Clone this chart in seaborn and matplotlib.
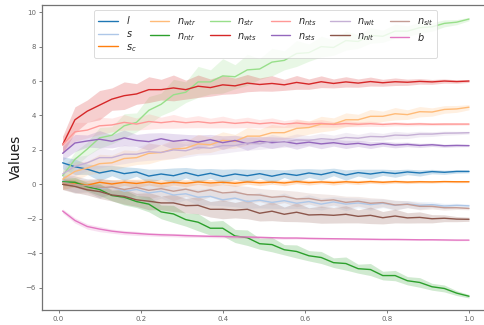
import numpy as np
import pandas as pd
import matplotlib
matplotlib.use("Agg")
import matplotlib.pyplot as plt
import seaborn as sns

x = np.round(np.linspace(0.01, 1.0, 34), 4)

labels = ["$l$", "$s$", "$s_c$", "$n_{wtr}$", "$n_{ntr}$", "$n_{str}$", "$n_{wts}$",
          "$n_{nts}$", "$n_{sts}$", "$n_{wlt}$", "$n_{nlt}$", "$n_{slt}$", "$b$"]

l_mean = [1.25, 1.02, 0.88, 0.66, 0.8, 0.62, 0.72, 0.48, 0.6, 0.5, 0.68, 0.5, 0.64, 0.46, 0.6, 0.5, 0.62,
          0.47, 0.62, 0.52, 0.66, 0.56, 0.72, 0.54, 0.68, 0.6, 0.7, 0.63, 0.72, 0.66, 0.74, 0.7, 0.75, 0.75]
l_hw = [0.35, 0.45, 0.3, 0.45, 0.3, 0.4, 0.25, 0.4, 0.3, 0.45, 0.3, 0.4, 0.28, 0.42, 0.3, 0.38, 0.25,
        0.4, 0.22, 0.38, 0.25, 0.32, 0.22, 0.3, 0.2, 0.28, 0.18, 0.22, 0.16, 0.18, 0.13, 0.12, 0.1, 0.08]

s_mean = [0.2, 0.0, -0.05, -0.25, -0.15, -0.4, -0.3, -0.5, -0.4, -0.62, -0.55, -0.75, -0.7, -0.9, -0.8, -1.0, -0.92,
          -1.05, -0.95, -1.1, -1.0, -1.15, -1.02, -1.15, -1.08, -1.18, -1.1, -1.22, -1.14, -1.22, -1.18, -1.26, -1.22, -1.25]
s_hw = [0.4, 0.5, 0.35, 0.55, 0.4, 0.5, 0.35, 0.55, 0.4, 0.5, 0.35, 0.45, 0.5, 0.35, 0.5, 0.4, 0.45,
        0.35, 0.45, 0.3, 0.4, 0.35, 0.3, 0.38, 0.28, 0.32, 0.25, 0.28, 0.2, 0.22, 0.16, 0.15, 0.12, 0.1]

sc_mean = [0.0, 0.08, -0.05, 0.12, 0.02, 0.12, 0.05, 0.14, 0.04, 0.12, 0.06, 0.14, 0.08, 0.12, 0.06, 0.14, 0.09,
           0.13, 0.08, 0.16, 0.1, 0.14, 0.1, 0.15, 0.11, 0.16, 0.12, 0.16, 0.13, 0.15, 0.14, 0.16, 0.15, 0.15]
sc_hw = [0.3, 0.22, 0.28, 0.2, 0.25, 0.18, 0.24, 0.18, 0.22, 0.16, 0.2, 0.14, 0.2, 0.14, 0.18, 0.13, 0.17,
         0.12, 0.16, 0.12, 0.14, 0.1, 0.14, 0.1, 0.12, 0.1, 0.1, 0.09, 0.09, 0.08, 0.07, 0.06, 0.06, 0.05]

nwtr_mean = [0.3, 0.75, 0.95, 1.2, 1.25, 1.5, 1.55, 1.8, 1.85, 2.05, 2.1, 2.35, 2.3, 2.55, 2.5, 2.8, 2.8,
             3.0, 3.0, 3.25, 3.3, 3.5, 3.5, 3.75, 3.75, 3.95, 3.95, 4.1, 4.05, 4.22, 4.2, 4.35, 4.38, 4.48]
nwtr_hw = [0.5, 0.55, 0.4, 0.55, 0.45, 0.5, 0.4, 0.6, 0.45, 0.55, 0.4, 0.55, 0.45, 0.5, 0.4, 0.5, 0.4,
           0.48, 0.38, 0.5, 0.38, 0.45, 0.36, 0.4, 0.32, 0.4, 0.3, 0.36, 0.28, 0.3, 0.24, 0.22, 0.2, 0.15]

nntr_mean = [0.15, 0.12, -0.14, -0.3, -0.65, -0.75, -1.0, -1.15, -1.6, -1.72, -2.05, -2.2, -2.55, -2.55, -3.0, -3.1, -3.45,
             -3.5, -3.8, -3.9, -4.15, -4.25, -4.55, -4.6, -4.9, -4.95, -5.3, -5.3, -5.6, -5.7, -5.95, -6.05, -6.32, -6.5]
nntr_hw = [0.2, 0.28, 0.25, 0.35, 0.3, 0.45, 0.35, 0.45, 0.4, 0.5, 0.38, 0.5, 0.4, 0.45, 0.38, 0.45, 0.32,
           0.42, 0.3, 0.38, 0.3, 0.35, 0.28, 0.38, 0.26, 0.35, 0.25, 0.3, 0.24, 0.28, 0.2, 0.2, 0.14, 0.1]

nstr_mean = [0.5, 1.45, 2.05, 2.7, 2.85, 3.4, 3.6, 4.3, 4.65, 5.2, 5.35, 5.95, 5.95, 6.3, 6.25, 6.65, 6.7,
             7.1, 7.2, 7.6, 7.65, 8.0, 7.95, 8.35, 8.3, 8.65, 8.6, 8.9, 8.9, 9.1, 9.15, 9.35, 9.42, 9.6]
nstr_hw = [0.3, 0.45, 0.4, 0.6, 0.5, 0.7, 0.55, 0.8, 0.65, 0.9, 0.6, 0.9, 0.7, 1.0, 0.7, 0.9, 0.6,
           0.8, 0.55, 0.75, 0.5, 0.6, 0.45, 0.55, 0.4, 0.45, 0.35, 0.4, 0.3, 0.32, 0.25, 0.2, 0.15, 0.1]

nwts_mean = [2.3, 3.75, 4.25, 4.6, 4.95, 5.15, 5.25, 5.5, 5.5, 5.6, 5.5, 5.7, 5.62, 5.78, 5.72, 5.88, 5.8,
             5.86, 5.78, 5.92, 5.82, 5.96, 5.86, 5.95, 5.88, 5.97, 5.9, 5.96, 5.93, 5.98, 5.95, 6.0, 5.97, 6.0]
nwts_hw = [0.5, 0.75, 0.65, 0.85, 0.65, 0.8, 0.6, 0.75, 0.6, 0.75, 0.55, 0.65, 0.5, 0.55, 0.45, 0.5, 0.38,
           0.45, 0.32, 0.4, 0.3, 0.34, 0.26, 0.3, 0.24, 0.26, 0.2, 0.22, 0.18, 0.16, 0.14, 0.12, 0.1, 0.08]

nnts_mean = [2.3, 3.05, 3.15, 3.4, 3.45, 3.6, 3.5, 3.65, 3.58, 3.66, 3.58, 3.64, 3.56, 3.62, 3.54, 3.6, 3.52,
             3.58, 3.5, 3.56, 3.5, 3.54, 3.48, 3.53, 3.49, 3.52, 3.48, 3.52, 3.49, 3.51, 3.49, 3.5, 3.5, 3.5]
nnts_hw = [0.5, 0.55, 0.45, 0.5, 0.4, 0.45, 0.35, 0.45, 0.32, 0.4, 0.3, 0.35, 0.28, 0.34, 0.26, 0.3, 0.24,
           0.28, 0.2, 0.24, 0.18, 0.22, 0.16, 0.18, 0.14, 0.15, 0.12, 0.12, 0.1, 0.1, 0.08, 0.08, 0.07, 0.06]

nsts_mean = [1.8, 2.4, 2.52, 2.62, 2.5, 2.7, 2.55, 2.48, 2.65, 2.5, 2.58, 2.45, 2.6, 2.42, 2.55, 2.36, 2.5,
             2.42, 2.48, 2.36, 2.45, 2.35, 2.42, 2.32, 2.38, 2.28, 2.36, 2.28, 2.32, 2.26, 2.3, 2.24, 2.26, 2.25]
nsts_hw = [0.4, 0.5, 0.35, 0.5, 0.38, 0.45, 0.35, 0.5, 0.35, 0.45, 0.32, 0.42, 0.3, 0.4, 0.3, 0.38, 0.28,
           0.34, 0.25, 0.32, 0.22, 0.28, 0.2, 0.24, 0.18, 0.2, 0.15, 0.16, 0.13, 0.12, 0.1, 0.09, 0.08, 0.06]

nwlt_mean = [0.6, 1.05, 1.25, 1.55, 1.55, 1.75, 1.75, 1.9, 1.85, 2.0, 1.95, 2.15, 2.1, 2.25, 2.25, 2.4, 2.35,
             2.5, 2.45, 2.58, 2.55, 2.65, 2.6, 2.72, 2.68, 2.78, 2.76, 2.86, 2.84, 2.92, 2.92, 2.97, 2.98, 3.0]
nwlt_hw = [0.5, 0.55, 0.45, 0.6, 0.45, 0.55, 0.42, 0.5, 0.4, 0.5, 0.38, 0.45, 0.38, 0.45, 0.35, 0.42, 0.32,
           0.4, 0.3, 0.35, 0.28, 0.32, 0.26, 0.3, 0.22, 0.26, 0.2, 0.22, 0.18, 0.16, 0.14, 0.12, 0.1, 0.08]

nnlt_mean = [0.0, -0.12, -0.32, -0.42, -0.62, -0.7, -0.9, -0.98, -1.08, -1.08, -1.24, -1.22, -1.45, -1.45, -1.5, -1.45, -1.68,
             -1.56, -1.74, -1.62, -1.78, -1.76, -1.8, -1.74, -1.86, -1.8, -1.94, -1.84, -1.95, -1.92, -2.0, -1.97, -2.02, -2.03]
nnlt_hw = [0.3, 0.35, 0.3, 0.4, 0.35, 0.45, 0.38, 0.5, 0.4, 0.5, 0.42, 0.5, 0.45, 0.55, 0.45, 0.55, 0.45,
           0.55, 0.42, 0.55, 0.42, 0.5, 0.45, 0.5, 0.38, 0.48, 0.36, 0.4, 0.3, 0.32, 0.24, 0.2, 0.15, 0.12]

nslt_mean = [0.1, -0.02, -0.08, -0.2, -0.15, -0.3, -0.18, -0.35, -0.25, -0.4, -0.28, -0.45, -0.32, -0.5, -0.45, -0.6, -0.62,
             -0.75, -0.7, -0.85, -0.82, -0.95, -0.9, -1.05, -0.98, -1.1, -1.06, -1.2, -1.16, -1.28, -1.28, -1.36, -1.36, -1.4]
nslt_hw = [0.4, 0.5, 0.4, 0.55, 0.4, 0.55, 0.42, 0.5, 0.4, 0.55, 0.42, 0.5, 0.4, 0.5, 0.4, 0.48, 0.38,
           0.45, 0.36, 0.45, 0.32, 0.4, 0.3, 0.36, 0.28, 0.32, 0.24, 0.28, 0.2, 0.2, 0.15, 0.14, 0.1, 0.08]

b_mean = [-1.55, -2.1, -2.45, -2.6, -2.72, -2.8, -2.85, -2.9, -2.93, -2.95, -2.98, -3.0, -3.02, -3.03, -3.05, -3.06, -3.08,
          -3.1, -3.12, -3.12, -3.14, -3.15, -3.16, -3.17, -3.18, -3.19, -3.2, -3.2, -3.21, -3.22, -3.22, -3.23, -3.24, -3.24]
b_hw = [0.12, 0.15, 0.15, 0.15, 0.12, 0.12, 0.12, 0.1, 0.1, 0.1, 0.1, 0.08, 0.08, 0.08, 0.08, 0.08, 0.07,
        0.07, 0.07, 0.06, 0.06, 0.06, 0.06, 0.05, 0.05, 0.05, 0.05, 0.05, 0.04, 0.04, 0.04, 0.04, 0.04, 0.03]

means = [l_mean, s_mean, sc_mean, nwtr_mean, nntr_mean, nstr_mean, nwts_mean,
         nnts_mean, nsts_mean, nwlt_mean, nnlt_mean, nslt_mean, b_mean]
hws = [l_hw, s_hw, sc_hw, nwtr_hw, nntr_hw, nstr_hw, nwts_hw,
       nnts_hw, nsts_hw, nwlt_hw, nnlt_hw, nslt_hw, b_hw]

rows = []
for lab, m, h in zip(labels, means, hws):
    for xi, mi, hi in zip(x, m, h):
        rows.append((lab, xi, mi - hi))
        rows.append((lab, xi, mi + hi))
df = pd.DataFrame(rows, columns=["series", "x", "Values"])

sns.set_theme(style="ticks")
palette = sns.color_palette("tab20", 20)[:13]

fig = plt.figure(figsize=(4.85, 3.25), dpi=100)
ax = fig.add_axes([42.3 / 485, 15 / 325, (489.3 - 42.3) / 485, 304.7 / 325])

sns.lineplot(data=df, x="x", y="Values", hue="series", hue_order=labels,
             palette=palette, estimator="mean", errorbar=("pi", 100),
             linewidth=1.0, err_kws={"alpha": 0.22, "linewidth": 0}, ax=ax)

ax.set_xlim(-0.0395, 1.0495)
ax.set_ylim(-7.3, 10.4)
ax.set_xticks([0.0, 0.2, 0.4, 0.6, 0.8, 1.0])
ax.set_yticks([-6, -4, -2, 0, 2, 4, 6, 8, 10])
ax.set_xlabel("")
ax.set_ylabel("Values", fontsize=10, color="0.1", labelpad=2)
ax.tick_params(axis="both", labelsize=5, colors="0.4", length=2.5, width=0.6, pad=2)
for sp in ax.spines.values():
    sp.set_color("0.45")
    sp.set_linewidth(0.9)

handles, labs = ax.get_legend_handles_labels()
leg = ax.legend(handles, labs, ncol=6, loc="upper center", fontsize=7,
                frameon=True, handlelength=2.0, columnspacing=1.4,
                labelspacing=0.3, borderpad=0.4, handletextpad=0.8)
leg.get_frame().set_edgecolor("0.8")
leg.get_frame().set_linewidth(0.6)
for line in leg.get_lines():
    line.set_linewidth(1.0)

fig.savefig("out.png", dpi=100)
